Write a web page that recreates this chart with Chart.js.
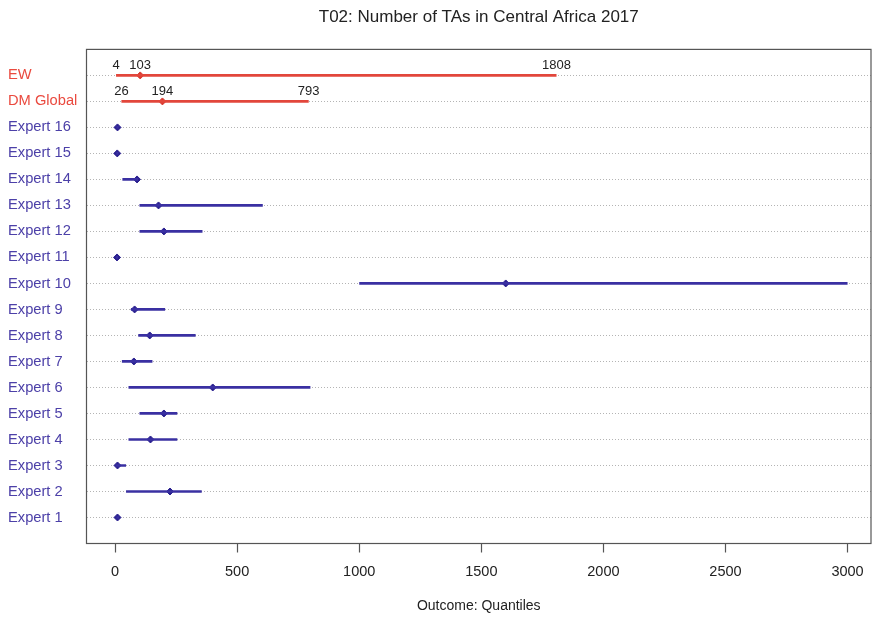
<!DOCTYPE html>
<html>
<head>
<meta charset="utf-8">
<script src="https://cdn.jsdelivr.net/npm/chart.js@4/dist/chart.umd.min.js"></script>
<style>
  html, body { margin: 0; padding: 0; background: #ffffff; }
  #wrap { width: 878px; height: 621px; }
</style>
</head>
<body>
<div id="wrap"><canvas id="chart" width="878" height="621"></canvas></div>
<script>
// Rows from bottom to top
const rowLabels = [
  'Expert 1', 'Expert 2', 'Expert 3', 'Expert 4', 'Expert 5', 'Expert 6',
  'Expert 7', 'Expert 8', 'Expert 9', 'Expert 10', 'Expert 11', 'Expert 12',
  'Expert 13', 'Expert 14', 'Expert 15', 'Expert 16', 'DM Global', 'EW'
];
// 5%, 50% and 95% quantiles for each row
const lowerQ  = [5, 45, 2, 55, 100, 55, 28, 95, 65, 1000, 4, 100, 100, 30, 5, 5, 26, 4];
const medianQ = [10, 225, 10, 145, 200, 400, 77, 142, 80, 1600, 8, 200, 178, 90, 9, 10, 194, 103];
const upperQ  = [16, 355, 45, 255, 255, 800, 153, 330, 205, 3000, 12, 358, 605, 95, 14, 15, 793, 1808];
// Rows whose quantile values are printed above the line
const labelledRows = ['DM Global', 'EW'];
const xTicks = [0, 500, 1000, 1500, 2000, 2500, 3000];

const FONT = "'Liberation Sans', Arial, Helvetica, sans-serif";
const BLUE_LINE = '#3a30a2';
const BLUE_PT = '#2a208f';
const BLUE_TXT = '#4c40a8';
const RED_LINE = '#e2463b';
const RED_PT = '#d93a30';
const RED_TXT = '#ea4a3f';

const isCombined = i => labelledRows.includes(rowLabels[i]);

const datasets = rowLabels.map((name, i) => ({
  label: name,
  data: [{ x: lowerQ[i], y: i + 1 }, { x: upperQ[i], y: i + 1 }],
  showLine: true,
  borderColor: isCombined(i) ? RED_LINE : BLUE_LINE,
  borderWidth: 2.7,
  pointRadius: 0,
  pointHoverRadius: 0
}));
datasets.push({
  label: 'median',
  data: rowLabels.map((_, i) => ({ x: medianQ[i], y: i + 1 })),
  showLine: false,
  pointStyle: 'rectRot',
  pointRadius: 3.5,
  pointBorderWidth: 1,
  pointBackgroundColor: ctx => isCombined(ctx.dataIndex) ? RED_PT : BLUE_PT,
  pointBorderColor: ctx => isCombined(ctx.dataIndex) ? RED_PT : BLUE_PT
});

// Frame around the plotting region
const frame = {
  id: 'frame',
  afterDraw(chart) {
    const { ctx, chartArea: a } = chart;
    ctx.save();
    ctx.strokeStyle = '#555555';
    ctx.lineWidth = 1.2;
    ctx.strokeRect(a.left, a.top, a.right - a.left, a.bottom - a.top);
    ctx.restore();
  }
};

// Quantile values printed above the combined rows
const valueLabels = {
  id: 'valueLabels',
  afterDatasetsDraw(chart) {
    const { ctx, scales: { x, y } } = chart;
    ctx.save();
    ctx.font = '13px ' + FONT;
    ctx.fillStyle = '#222222';
    ctx.textAlign = 'center';
    ctx.textBaseline = 'middle';
    rowLabels.forEach((name, i) => {
      if (!labelledRows.includes(name)) return;
      const py = y.getPixelForValue(i + 1) - 10;
      [lowerQ[i], medianQ[i], upperQ[i]].forEach(v => {
        ctx.fillText(String(v), x.getPixelForValue(v), py);
      });
    });
    ctx.restore();
  }
};

new Chart(document.getElementById('chart'), {
  type: 'scatter',
  data: { datasets },
  options: {
    responsive: false,
    animation: false,
    layout: { padding: { left: 8, right: 7, top: 0, bottom: 0 } },
    plugins: {
      legend: { display: false },
      tooltip: { enabled: false },
      title: {
        display: true,
        text: 'T02: Number of TAs in Central Africa 2017',
        fullSize: false,
        color: '#222222',
        font: { family: FONT, size: 17, weight: 'normal' },
        padding: { top: 7, bottom: 22 }
      }
    },
    scales: {
      x: {
        type: 'linear',
        min: -117,
        max: 3096,
        afterBuildTicks: s => { s.ticks = xTicks.map(v => ({ value: v })); },
        afterFit: s => { s.height = 77.5; },
        border: { display: false },
        grid: { drawOnChartArea: false, drawTicks: true, tickLength: 9, tickColor: '#555555', tickWidth: 1.2 },
        ticks: {
          color: '#222222',
          padding: 11,
          font: { family: FONT, size: 14.5 },
          callback: v => String(v)
        },
        title: {
          display: true,
          text: 'Outcome: Quantiles',
          color: '#222222',
          font: { family: FONT, size: 14 },
          padding: { top: 0, bottom: 6 }
        }
      },
      y: {
        type: 'linear',
        min: 0,
        max: 19,
        afterBuildTicks: s => { s.ticks = rowLabels.map((_, i) => ({ value: i + 1 })); },
        afterFit: s => { s.width = 78.5; },
        border: { display: false, dash: [1, 2] },
        grid: { color: '#b4b4b4', lineWidth: 1, drawTicks: false },
        ticks: {
          crossAlign: 'far',
          padding: 0,
          font: { family: FONT, size: 14.7 },
          color: ctx => (ctx.tick && isCombined(ctx.tick.value - 1)) ? RED_TXT : BLUE_TXT,
          callback: v => rowLabels[v - 1]
        }
      }
    }
  },
  plugins: [frame, valueLabels]
});
</script>
</body>
</html>
